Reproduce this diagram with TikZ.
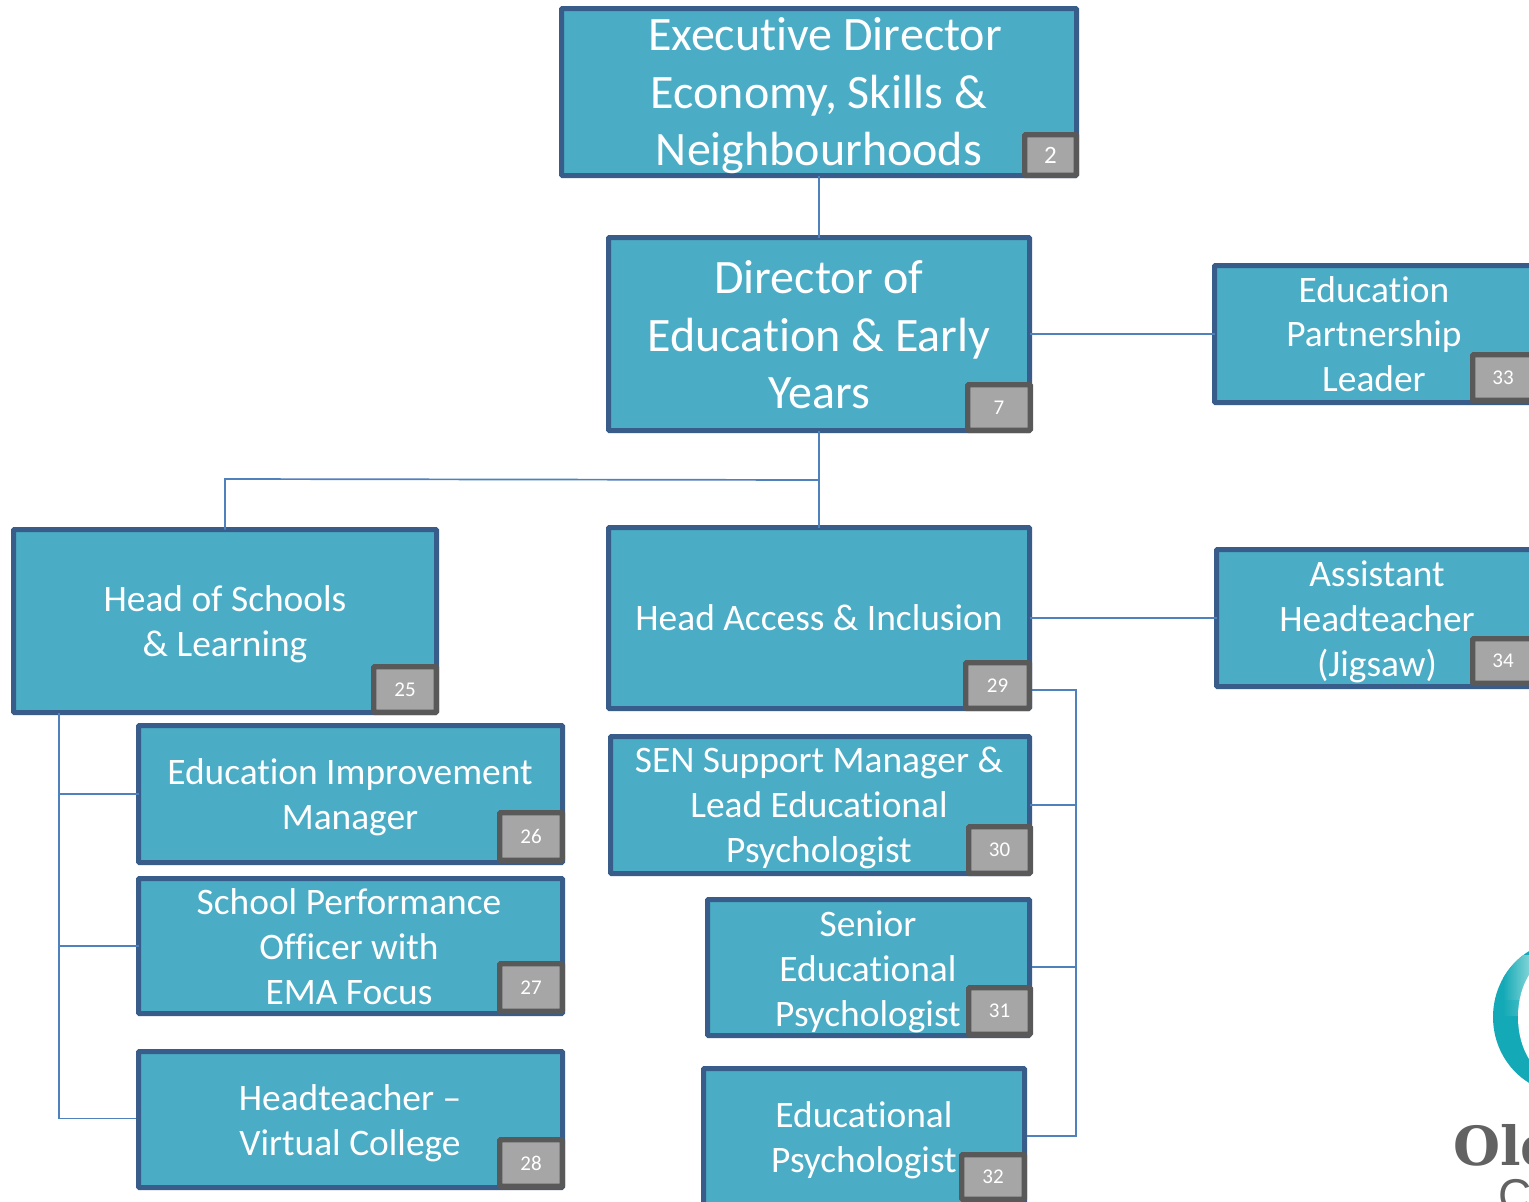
\documentclass[tikz,border=0pt]{standalone}
\usepackage{fontspec}
\setmainfont[Ligatures=NoCommon]{Carlito}
\newfontfamily\logofont{DejaVu Serif}
\newfontfamily\logothin{Liberation Sans}
\definecolor{boxfill}{HTML}{4BACC6}
\definecolor{boxline}{HTML}{385D8A}
\definecolor{tagfill}{HTML}{A6A6A6}
\definecolor{tagline}{HTML}{595959}
\definecolor{linkc}{HTML}{4F81BD}
\definecolor{ringc}{HTML}{14A9B6}
\definecolor{ringl}{HTML}{7FD3D6}
\definecolor{logog}{HTML}{626262}
\tikzset{
  orgbox/.style={draw=boxline,fill=boxfill,line width=5pt,rounded corners=1pt,inner sep=0pt,outer sep=0pt},
  tagbox/.style={draw=tagline,fill=tagfill,line width=5.4pt,rounded corners=1pt,inner sep=0pt,outer sep=0pt,text=white,font=\fontsize{21}{25}\selectfont},
  bigtext/.style={text=white,align=center,inner sep=0pt,font=\fontsize{48}{57.6}\selectfont},
  medtext/.style={text=white,align=center,inner sep=0pt,font=\fontsize{37.4}{44.8}\selectfont},
  linkline/.style={draw=linkc,line width=1.7pt}
}
\newcommand\orgb[5]{%
  \node[orgbox,minimum width={(#4-#2-5)*1pt},minimum height={(#5-#3-5)*1pt}] (#1) at ({(#2+#4)/2},{(#3+#5)/2}) {};}
\newcommand\orgt[6]{%
  \node[tagbox,minimum width={(#4-#2-5.4)*1pt},minimum height={(#5-#3-5.4)*1pt}] (#1) at ({(#2+#4)/2},{(#3+#5)/2}) {#6};}
\begin{document}
\begin{tikzpicture}[x=1pt,y=-1pt]
\useasboundingbox (0,0) rectangle (1529,1202);
\clip (0,0) rectangle (1529,1202);
\fill[white] (0,0) rectangle (1529,1202);

% logo
\begin{scope}
\clip (1565,1017) ellipse [x radius=72,y radius=76];
\fill[ringc] (1480,930) rectangle (1540,1100);
\shade[left color=ringc,right color=ringl] (1503,955) rectangle (1529,1000);
\shade[top color=ringl,bottom color=ringc,left color=ringc,right color=ringc!40!ringl] (1503,1000) rectangle (1529,1015);
\end{scope}
\fill[white] (1558,1017) ellipse [x radius=40,y radius=61];
\node[anchor=base west,inner sep=0pt,text=logog,font=\logofont\bfseries\fontsize{54}{60}\selectfont] (logoa) at (1453,1165) {Old};
\node[anchor=base west,inner sep=0pt,text=logog,font=\logothin\fontsize{46}{54}\selectfont] (logob) at (1498,1211) {C};

% boxes
\orgb{exec}{559}{6}{1079}{178}
\orgb{dir}{606}{235}{1032}{433}
\orgb{epl}{1212}{263}{1536}{405}
\orgb{hs}{11}{527}{439}{715}
\orgb{ha}{606}{525}{1032}{711}
\orgb{asst}{1214}{547}{1536}{689}
\orgb{eim}{136}{723}{565}{865}
\orgb{spo}{136}{876}{565}{1016}
\orgb{ht}{136}{1049}{565}{1190}
\orgb{sen}{608}{734}{1032}{876}
\orgb{sep}{705}{897}{1032}{1038}
\orgb{ep}{701}{1066}{1027}{1230}

% connectors
\coordinate (jc) at (819,480);
\coordinate (jl) at (225,479);
\coordinate (tl) at (59,713);
\coordinate (hb) at (1032,690);
\coordinate (tr) at (1076,690);
\coordinate (epj) at (1027,1136);
\coordinate (sepj) at (1032,967);
\coordinate (htj) at (136,1118.5);
\draw[linkline] (exec.south) -- (dir.north);
\draw[linkline] (dir.east |- 0,334) -- (epl.west |- 0,334);
\draw[linkline] (dir.south) -- (ha.north);
\draw[linkline] (jc) -- (jl) -- (hs.north);
\draw[linkline] (ha.east) -- (asst.west);
\draw[linkline] (tl) |- (eim.west);
\draw[linkline] (tl) |- (spo.west);
\draw[linkline] (tl) |- (htj);
\draw[linkline] (hb) -- (tr) |- (sen.east);
\draw[linkline] (tr) |- (sepj);
\draw[linkline] (tr) |- (epj);

% tags
\orgt{t2}{1022}{132}{1079}{178}{\fontsize{25}{30}\selectfont 2}
\orgt{t7}{965}{382}{1033}{433}{7}
\orgt{t33}{1470}{352}{1536}{403}{33}
\orgt{t25}{371}{664}{439}{715}{25}
\orgt{t29}{963}{660}{1032}{711}{29}
\orgt{t34}{1470}{636}{1536}{686}{34}
\orgt{t26}{497}{810}{565}{863}{26}
\orgt{t27}{497}{961}{565}{1014}{27}
\orgt{t28}{497}{1137}{565}{1189}{28}
\orgt{t30}{966}{824}{1033}{876}{30}
\orgt{t31}{966}{985}{1033}{1037}{31}
\orgt{t32}{959}{1152}{1027}{1202}{32}

% labels
\node[bigtext] (lexec) at (819,96) {\hspace*{12pt}Executive Director\\Economy, Skills \&\\Neighbourhoods};
\node[bigtext] (ldir) at (819,335) {Director of\\Education \& Early\\Years};
\node[medtext] (lepl) at (1374,334) {Education\\Partnership\\Leader};
\node[medtext] (lhs) at (225,624) {Head of Schools\\\& Learning};
\node[medtext] (lha) at (819,618) {Head Access \& Inclusion};
\node[medtext] (lasst) at (1377,622) {Assistant\\Headteacher\\(Jigsaw)};
\node[medtext] (leim) at (350,797) {Education Improvement\\Manager};
\node[medtext] (lspo) at (349,946.5) {School Performance\\Officer with\\EMA Focus};
\node[medtext] (lht) at (350,1123) {Headteacher –\\Virtual College};
\node[medtext] (lsen) at (819,808) {SEN Support Manager \&\\Lead Educational\\Psychologist};
\node[medtext] (lsep) at (868,972) {Senior\\Educational\\Psychologist};
\node[medtext] (lep) at (864,1140.5) {Educational\\Psychologist};
\end{tikzpicture}
\end{document}
